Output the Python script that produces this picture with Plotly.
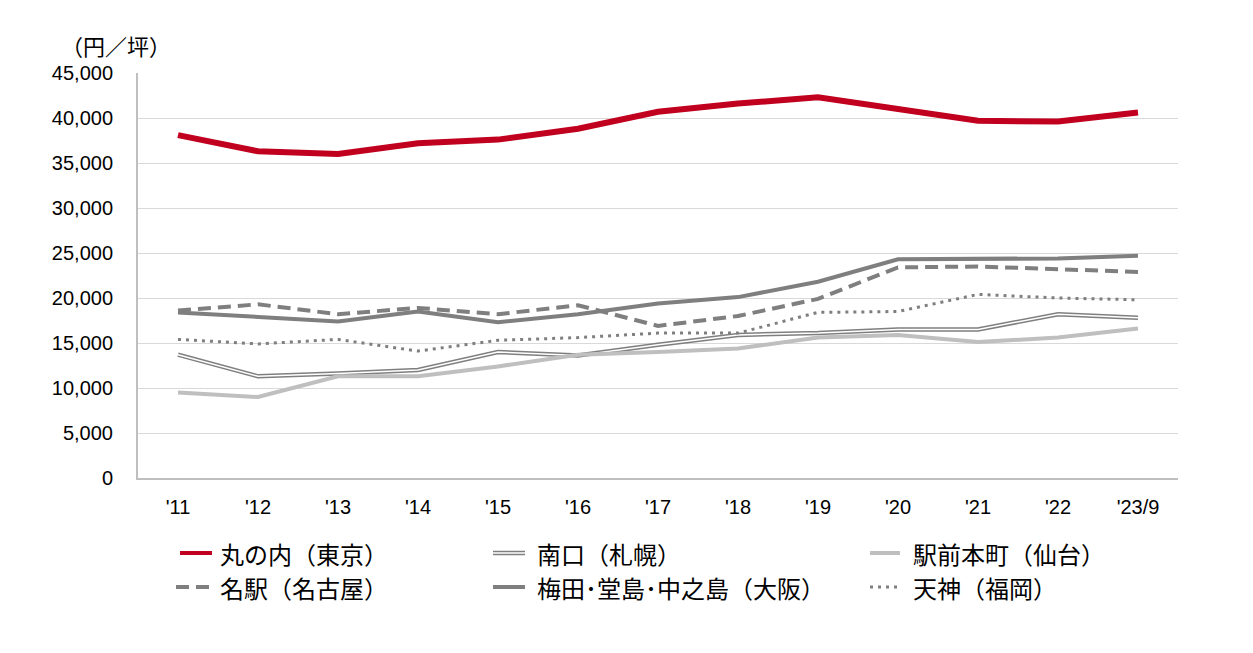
import plotly.graph_objects as go

categories = ["'11", "'12", "'13", "'14", "'15", "'16", "'17", "'18", "'19", "'20", "'21", "'22", "'23/9"]

marunouchi = [38100, 36300, 36000, 37200, 37600, 38800, 40700, 41600, 42300, 41000, 39700, 39600, 40600]
sapporo    = [13700, 11300, 11600, 12000, 14000, 13600, 14800, 15900, 16100, 16500, 16500, 18200, 17800]
sendai     = [9500, 9000, 11300, 11300, 12400, 13700, 14000, 14400, 15600, 15900, 15100, 15600, 16600]
meieki     = [18600, 19300, 18200, 18900, 18200, 19200, 16900, 18000, 19900, 23400, 23500, 23200, 22900]
umeda      = [18400, 17900, 17400, 18500, 17300, 18200, 19400, 20100, 21800, 24300, 24400, 24400, 24700]
tenjin     = [15400, 14900, 15400, 14100, 15300, 15600, 16100, 16100, 18400, 18500, 20400, 20000, 19800]

names = ["丸の内（東京）", "南口（札幌）", "駅前本町（仙台）", "名駅（名古屋）", "梅田･堂島･中之島（大阪）", "天神（福岡）"]
y_ticks = [0, 5000, 10000, 15000, 20000, 25000, 30000, 35000, 40000, 45000]
unit_label = "（円／坪）"

RED = "#C0001E"
GRAY = "#7F7F7F"
LIGHT = "#BFBFBF"

fig = go.Figure()
fig.add_trace(go.Scatter(x=categories, y=marunouchi, mode="lines", line=dict(color=RED, width=6)))
fig.add_trace(go.Scatter(x=categories, y=sapporo, mode="lines", line=dict(color=GRAY, width=4.5)))
fig.add_trace(go.Scatter(x=categories, y=sapporo, mode="lines", line=dict(color="white", width=1.5)))
fig.add_trace(go.Scatter(x=categories, y=sendai, mode="lines", line=dict(color=LIGHT, width=4)))
fig.add_trace(go.Scatter(x=categories, y=meieki, mode="lines", line=dict(color=GRAY, width=4, dash="13px,7px")))
fig.add_trace(go.Scatter(x=categories, y=umeda, mode="lines", line=dict(color=GRAY, width=4)))
fig.add_trace(go.Scatter(x=categories, y=tenjin, mode="lines", line=dict(color=GRAY, width=3, dash="3px,5px")))

OFF = 8  # page body margin
W, H = 1245, 645
PL, PR, PT, PB = 138, 1178, 73, 478  # plot area in screen pixels
L = PL - OFF
T = PT - OFF
R = OFF + W - PR
B = OFF + H - PB
pw, ph = PR - PL, PB - PT

def px(x):
    return (x - PL) / pw

def py(y):
    return (PB - y) / ph

# manual legend
leg = [
    (180, 212, 553, names[0], [dict(color=RED, width=4)]),
    (493, 525, 553, names[1], [dict(color=GRAY, width=4.5), dict(color="white", width=1.5)]),
    (870, 900, 553, names[2], [dict(color=LIGHT, width=4)]),
    (176, 212, 587, names[3], [dict(color=GRAY, width=4, dash="13px,7px")]),
    (493, 525, 587, names[4], [dict(color=GRAY, width=4)]),
    (870, 900, 587, names[5], [dict(color=GRAY, width=3, dash="3px,5px")]),
]
text_x = [218, 535, 911, 218, 535, 911]
shapes = []
annotations = []
for i, (x0, x1, yy, label, lines) in enumerate(leg):
    for ln in lines:
        shapes.append(dict(type="line", xref="paper", yref="paper", x0=px(x0), x1=px(x1),
                           y0=py(yy), y1=py(yy), line=ln))
    annotations.append(dict(xref="paper", yref="paper", x=px(text_x[i]), y=py(yy), text=label,
                            showarrow=False, xanchor="left", yanchor="middle",
                            font=dict(family="Noto Sans CJK JP", size=24, color="#000000")))

annotations.append(dict(xref="paper", yref="paper", x=px(116), y=py(45), text=unit_label,
                        showarrow=False, xanchor="center", yanchor="middle",
                        font=dict(family="Noto Sans CJK JP", size=22, color="#000000")))

fig.update_layout(
    width=W, height=H,
    margin=dict(l=L, r=R, t=T, b=B),
    plot_bgcolor="white", paper_bgcolor="white",
    showlegend=False,
    shapes=shapes, annotations=annotations,
    xaxis=dict(type="category", categoryorder="array", categoryarray=categories,
               range=[-0.5, len(categories) - 0.5],
               showgrid=False, showline=True, linecolor="#BFBFBF", linewidth=2,
               ticks="", ticklabelstandoff=10,
               tickfont=dict(family="Liberation Sans Narrow, Liberation Sans", size=20, color="#000000")),
    yaxis=dict(range=[0, 45000], tickvals=y_ticks, tickformat=",d",
               showgrid=True, gridcolor="#D9D9D9", gridwidth=1,
               showline=True, linecolor="#BFBFBF", linewidth=2,
               zeroline=False, ticks="", ticklabelstandoff=19,
               tickfont=dict(family="Liberation Sans", size=20, color="#000000")),
)

fig.write_html("out.html")
